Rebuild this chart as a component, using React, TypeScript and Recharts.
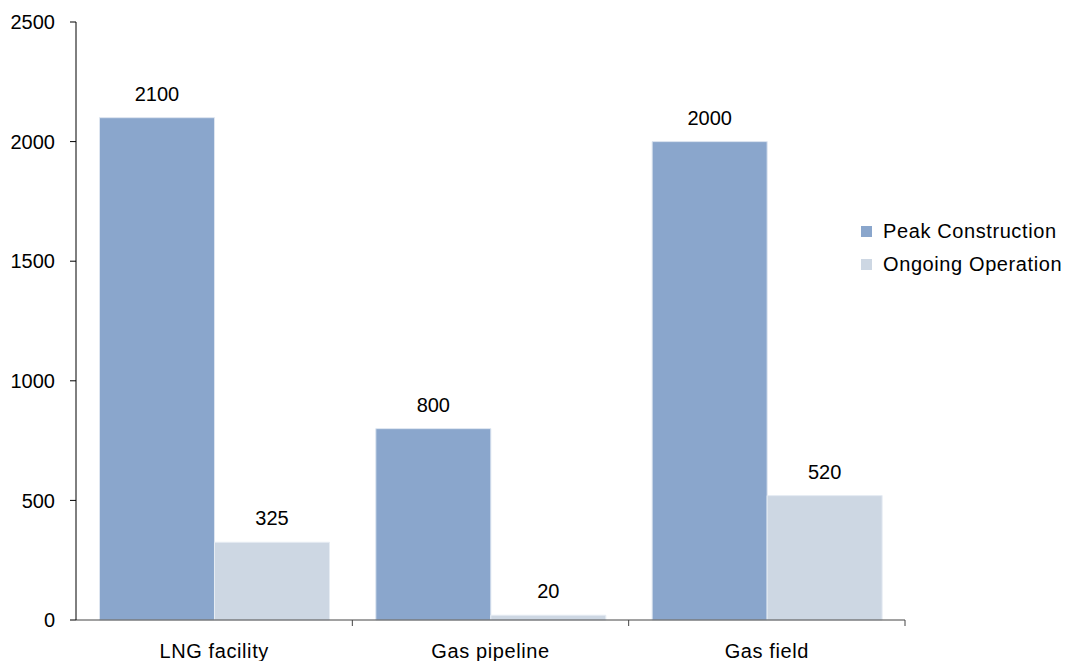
import React from 'react';
import { BarChart, Bar, XAxis, YAxis, LabelList } from 'recharts';

const categories = ['LNG facility', 'Gas pipeline', 'Gas field'];
const peakConstruction = [2100, 800, 2000];
const ongoingOperation = [325, 20, 520];
const yTicks = [0, 500, 1000, 1500, 2000, 2500];

const data = categories.map((name, i) => ({
  name,
  peak: peakConstruction[i],
  ongoing: ongoingOperation[i],
}));

const W = 1062;
const H = 653;
const margin = { top: 14, right: 165, bottom: 0, left: 8 };
const yAxisWidth = 60;
const band = (W - margin.left - margin.right - yAxisWidth) / categories.length;

const FONT = '"Liberation Sans", Arial, sans-serif';

function CategoryTick(props: any) {
  const { x, y, payload, index } = props;
  const last = index === categories.length - 1;
  return (
    <g>
      {index > 0 && <line x1={x - band / 2} x2={x - band / 2} y1={y - 8} y2={y - 2} stroke="#444" />}
      {last && <line x1={x + band / 2} x2={x + band / 2} y1={y - 8} y2={y - 2} stroke="#444" />}
      <text x={x} y={y + 30} textAnchor="middle" fontSize={20} fill="#000" fontFamily={FONT} letterSpacing={0.6}>
        {payload.value}
      </text>
    </g>
  );
}

const legendItems = [
  { label: 'Peak Construction', color: '#8aa6cc' },
  { label: 'Ongoing Operation', color: '#cdd7e3' },
];

export default function App() {
  return (
    <div style={{ width: W, height: H, background: '#fff', position: 'relative' }}>
      <BarChart width={W} height={H} data={data} margin={margin} barCategoryGap="8.5%" barGap={0}>
        <XAxis
          dataKey="name"
          axisLine={{ stroke: '#444' }}
          tickLine={false}
          tick={<CategoryTick />}
          height={41}
          interval={0}
        />
        <YAxis
          domain={[0, 2500]}
          ticks={yTicks}
          width={yAxisWidth}
          axisLine={{ stroke: '#000' }}
          tickLine={{ stroke: '#000' }}
          tickSize={6}
          tickMargin={15}
          tick={{ fontSize: 20, fill: '#000', fontFamily: FONT }}
        />
        <Bar dataKey="peak" fill="#8aa6cc" stroke="#dde5f0" strokeWidth={1} isAnimationActive={false}>
          <LabelList dataKey="peak" position="top" offset={17} fontSize={20} fill="#000" fontFamily={FONT} />
        </Bar>
        <Bar dataKey="ongoing" fill="#cdd7e3" stroke="#e6ecf3" strokeWidth={1} isAnimationActive={false}>
          <LabelList dataKey="ongoing" position="top" offset={17} fontSize={20} fill="#000" fontFamily={FONT} />
        </Bar>
      </BarChart>
      <div style={{ position: 'absolute', left: 853, top: 207, width: 215, fontFamily: FONT, fontSize: 20, color: '#000' }}>
        {legendItems.map((it) => (
          <div key={it.label} style={{ display: 'flex', alignItems: 'center', height: 33, whiteSpace: 'nowrap' }}>
            <span style={{ width: 11, height: 11, background: it.color, marginRight: 11, display: 'inline-block', flexShrink: 0 }} />
            <span style={{ letterSpacing: 0.6 }}>{it.label}</span>
          </div>
        ))}
      </div>
    </div>
  );
}
